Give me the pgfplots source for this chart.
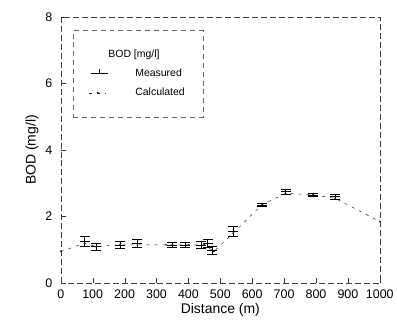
\documentclass[border=0pt]{standalone}
\usepackage{fontspec}
\setmainfont{Liberation Sans}
\usepackage{pgfplots}
\pgfplotsset{compat=1.18}
\begin{document}
\begin{tikzpicture}
\begin{axis}[
  width=320pt, height=267pt, scale only axis,
  xmin=0, xmax=1000, ymin=0, ymax=8,
  xtick={0,100,...,1000}, ytick={0,2,4,6,8},
  xtick pos=left, ytick pos=left, tick align=inside,
  major tick length=5pt,
  /pgf/number format/assume math mode=true,
  /pgf/number format/1000 sep={},
  ticklabel style={font=\fontsize{12.5}{14}\selectfont},
  yticklabel style={xshift=-5pt},
  xticklabel style={yshift=-3pt},
  label style={font=\fontsize{14}{16}\selectfont},
  xlabel={Distance (m)}, ylabel={BOD (mg/l)},
  xlabel style={yshift=2pt},
  axis line style={black!75, dash pattern=on 6pt off 3pt, line width=0.5pt},
  tick style={black!80},
  legend cell align=left,
  legend style={at={(0.0375,0.951)}, anchor=north west, draw=black!60, dash pattern=on 5pt off 4pt,
    font=\fontsize{10.5}{12}\selectfont, inner xsep=16pt, inner ysep=18pt, row sep=6pt,
    nodes={solid}},
]
\addlegendimage{empty legend}
\addlegendentry{\hspace{-2pt}BOD [mg/l]}
\addplot[black, only marks, mark=-, mark size=5pt, mark options={solid, line width=0.6pt},
  legend image code/.code={\draw[solid, line width=0.6pt] (2pt,0pt) -- (19pt,0pt); \draw[solid, line width=0.5pt] (10.5pt,0pt) -- (10.5pt,4.5pt);},
  error bars/.cd, y dir=both, y explicit, error bar style={black, line width=0.5pt}, error mark=-]
  table[x=x, y=y, y error=e] {
x y e
75 1.25 0.15
110 1.10 0.10
185 1.15 0.10
240 1.20 0.12
350 1.15 0.08
390 1.15 0.08
440 1.15 0.10
460 1.20 0.12
475 1.00 0.12
540 1.55 0.15
630 2.35 0.05
705 2.75 0.08
790 2.65 0.05
860 2.60 0.08
};
\addlegendentry{\hspace{25pt}Measured}
\addplot[black!85, dash pattern=on 3pt off 5pt, line width=0.5pt, mark=*, mark size=0.6pt, mark options={solid}]
  table {
0 0.95
75 1.20
110 1.10
185 1.15
240 1.15
330 1.15
400 1.15
450 1.15
480 0.95
540 1.50
630 2.35
705 2.70
790 2.65
860 2.55
1000 1.85
};
\addlegendentry{\hspace{25pt}Calculated}
\end{axis}
\path[use as bounding box] (current axis.south west) ++(-61pt,-41pt) rectangle ([xshift=16pt,yshift=17pt]current axis.north east);
\end{tikzpicture}
\end{document}
